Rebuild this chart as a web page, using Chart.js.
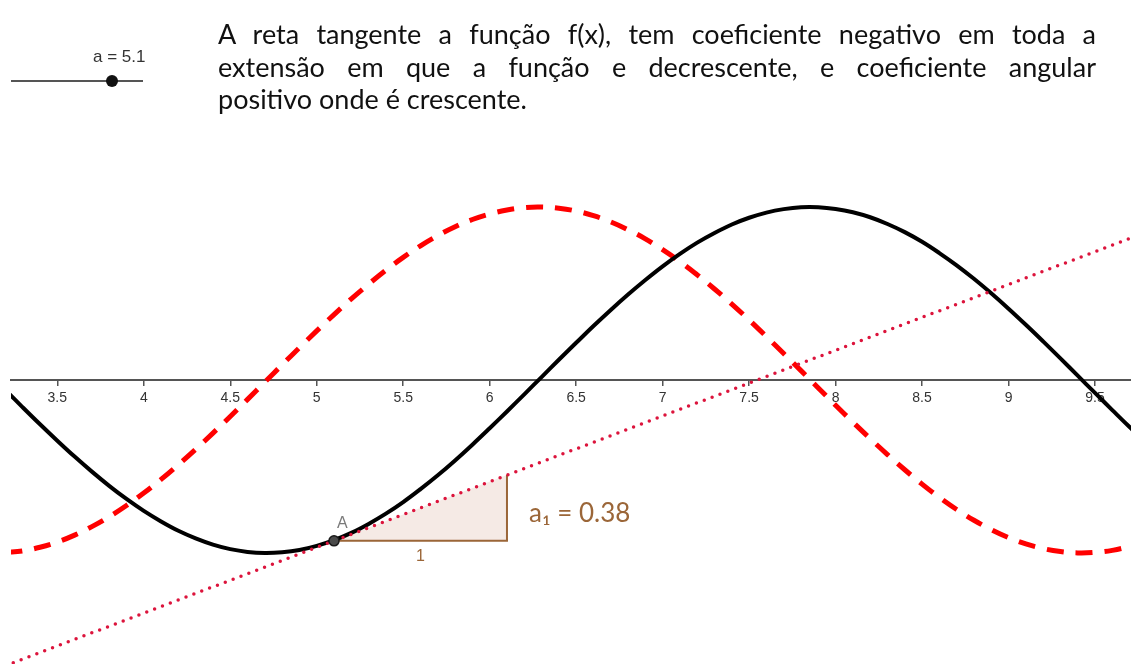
<!DOCTYPE html>
<html>
<head>
<meta charset="utf-8">
<script src="https://cdn.jsdelivr.net/npm/chart.js@4.4.1/dist/chart.umd.min.js"></script>
<style>
  html, body { margin: 0; padding: 0; background: #fff; overflow: hidden; }
  #wrap { position: absolute; left: 0; top: 0; width: 1131px; height: 664px; overflow: hidden; }
  #c { position: absolute; left: 0; top: 0; }
  #note {
    position: absolute; left: 218px; top: 18px; width: 878px;
    font-family: Lato, "Open Sans", sans-serif; font-size: 27px; line-height: 32.5px;
    color: #111;
  }
  #note div { text-align: justify; text-align-last: justify; white-space: nowrap; }
  #note div.last { text-align: left; text-align-last: left; }
  #slider { position: absolute; left: 11px; top: 80px; width: 132px; height: 2px; background: #555; }
  #sliderDot { position: absolute; left: 106px; top: 75px; width: 12px; height: 12px; border-radius: 50%; background: #111; }
  #sliderLbl { position: absolute; left: 93px; top: 47px; font-family: "Liberation Sans", Arial, sans-serif; font-size: 17px; color: #333; }
</style>
</head>
<body>
<div id="wrap">
  <canvas id="c" width="1131" height="664"></canvas>
  <div id="slider"></div>
  <div id="sliderDot"></div>
  <div id="sliderLbl">a = 5.1</div>
  <div id="note">
    <div>A reta tangente a função f(x), tem coeficiente negativo em toda a</div>
    <div>extensão em que a função e decrescente, e coeficiente angular</div>
    <div class="last">positivo onde é crescente.</div>
  </div>
</div>
<script>
// sample positions along the x axis
const xs = [3.2,3.3,3.4,3.5,3.6,3.7,3.8,3.9,4.0,4.1,4.2,4.3,4.4,4.5,4.6,4.7,4.8,4.9,
  5.0,5.1,5.2,5.3,5.4,5.5,5.6,5.7,5.8,5.9,6.0,6.1,6.2,6.3,6.4,6.5,6.6,6.7,6.8,6.9,
  7.0,7.1,7.2,7.3,7.4,7.5,7.6,7.7,7.8,7.9,8.0,8.1,8.2,8.3,8.4,8.5,8.6,8.7,8.8,8.9,
  9.0,9.1,9.2,9.3,9.4,9.5,9.6,9.7,9.8];

// f(x) — solid black curve
const fValues = [-0.058,-0.158,-0.256,-0.351,-0.443,-0.530,-0.612,-0.688,-0.757,-0.818,-0.872,-0.916,-0.952,-0.978,-0.994,-1.000,-0.996,-0.983,
  -0.959,-0.926,-0.884,-0.832,-0.773,-0.706,-0.631,-0.551,-0.465,-0.374,-0.279,-0.182,-0.083,0.017,0.117,0.215,0.312,0.405,0.494,0.578,
  0.657,0.729,0.794,0.850,0.899,0.938,0.968,0.988,0.999,0.999,0.989,0.970,0.941,0.902,0.855,0.799,0.734,0.663,0.585,0.501,
  0.412,0.319,0.223,0.125,0.025,-0.075,-0.174,-0.272,-0.367];

// f'(x) — dashed red curve
const dValues = [-0.998,-0.988,-0.967,-0.937,-0.897,-0.848,-0.791,-0.726,-0.654,-0.575,-0.490,-0.401,-0.307,-0.211,-0.112,-0.012,0.088,0.187,
  0.284,0.378,0.469,0.554,0.635,0.709,0.776,0.835,0.886,0.928,0.960,0.983,0.997,1.000,0.993,0.977,0.950,0.914,0.869,0.816,
  0.754,0.685,0.608,0.526,0.439,0.347,0.251,0.153,0.054,-0.046,-0.146,-0.244,-0.339,-0.431,-0.519,-0.602,-0.679,-0.749,-0.811,-0.865,
  -0.911,-0.948,-0.975,-0.992,-1.000,-0.997,-0.985,-0.962,-0.930];

// tangent line through A, slope a1 = 0.38
const tangentX = [3.2, 9.8];
const tangentY = [-1.652, 0.856];

// point A (a = 5.1)
const pointA = { x: 5.1, y: -0.93 };

// slope triangle: run 1, rise 0.38
const triX = [5.1, 6.1, 6.1];
const triY = [-0.93, -0.93, -0.55];

// axis tick values and their labels
const tickValues = [3.5, 4, 4.5, 5, 5.5, 6, 6.5, 7, 7.5, 8, 8.5, 9, 9.5];
const tickLabels = ['3.5', '4', '4.5', '5', '5.5', '6', '6.5', '7', '7.5', '8', '8.5', '9', '9.5'];

const slopeLabel = 'a\u2081 = 0.38';

const pts = (X, Y) => X.map((x, i) => ({ x, y: Y[i] }));

const brown = 'rgb(155,102,56)';

const labelsPlugin = {
  id: 'geoLabels',
  afterDatasetsDraw(chart) {
    const { ctx, scales: { x, y } } = chart;
    ctx.save();
    ctx.textBaseline = 'middle';
    // name of point A
    ctx.fillStyle = '#7a7a7a';
    ctx.font = '16px "Liberation Sans", Arial, sans-serif';
    ctx.textAlign = 'left';
    ctx.fillText('A', x.getPixelForValue(pointA.x) + 3, y.getPixelForValue(pointA.y) - 17);
    // run label under the triangle
    ctx.fillStyle = brown;
    ctx.font = '16px "Liberation Sans", Arial, sans-serif';
    ctx.textAlign = 'center';
    ctx.fillText('1', x.getPixelForValue((triX[0] + triX[1]) / 2), y.getPixelForValue(triY[0]) + 16);
    // slope value
    ctx.font = '26px Lato, "Open Sans", sans-serif';
    ctx.textAlign = 'left';
    ctx.fillText(slopeLabel, x.getPixelForValue(triX[2]) + 22, y.getPixelForValue((triY[1] + triY[2]) / 2) + 6);
    ctx.restore();
  }
};

new Chart(document.getElementById('c'), {
  type: 'scatter',
  data: {
    datasets: [
      {
        data: [pointA], order: 0, showLine: false,
        pointRadius: 5, pointBackgroundColor: '#4a4a4a', pointBorderColor: '#1a1a1a', pointBorderWidth: 1.5
      },
      {
        data: pts(tangentX, tangentY), order: 1, showLine: true, pointRadius: 0,
        borderColor: 'rgb(220,20,60)', borderWidth: 3.5, borderDash: [0, 8.4], borderCapStyle: 'round'
      },
      {
        data: pts(xs, fValues), order: 2, showLine: true, pointRadius: 0, tension: 0.4,
        borderColor: '#000', borderWidth: 4
      },
      {
        data: pts(xs, dValues), order: 3, showLine: true, pointRadius: 0, tension: 0.4,
        borderColor: '#ff0000', borderWidth: 5, borderDash: [17, 12], borderCapStyle: 'butt'
      },
      {
        data: pts(triX, triY), order: 4, showLine: true, pointRadius: 0,
        borderColor: brown, borderWidth: 2, fill: 'shape', backgroundColor: 'rgba(153,51,0,0.1)'
      }
    ]
  },
  options: {
    responsive: false,
    animation: false,
    events: [],
    layout: { autoPadding: false, padding: { left: 11, right: 0, top: 0, bottom: 0 } },
    plugins: { legend: { display: false }, tooltip: { enabled: false } },
    scales: {
      x: {
        type: 'linear',
        min: 3.2323,
        max: 9.7081,
        position: { y: 0 },
        afterBuildTicks(scale) { scale.ticks = tickValues.map(v => ({ value: v })); },
        afterFit(scale) { scale.paddingLeft = 0; scale.paddingRight = 0; },
        ticks: {
          autoSkip: false, maxRotation: 0, padding: 5, color: '#333',
          font: { family: '"Liberation Sans", Arial, sans-serif', size: 14 },
          callback(value) { const i = tickValues.indexOf(value); return i >= 0 ? tickLabels[i] : ''; }
        },
        grid: { drawOnChartArea: false, drawTicks: true, tickLength: 5, color: '#555', lineWidth: 1.5 },
        border: { display: true, color: '#555', width: 2 }
      },
      y: {
        type: 'linear',
        display: false,
        min: -1.6422,
        max: 2.1971
      }
    }
  },
  plugins: [labelsPlugin]
});
</script>
</body>
</html>
